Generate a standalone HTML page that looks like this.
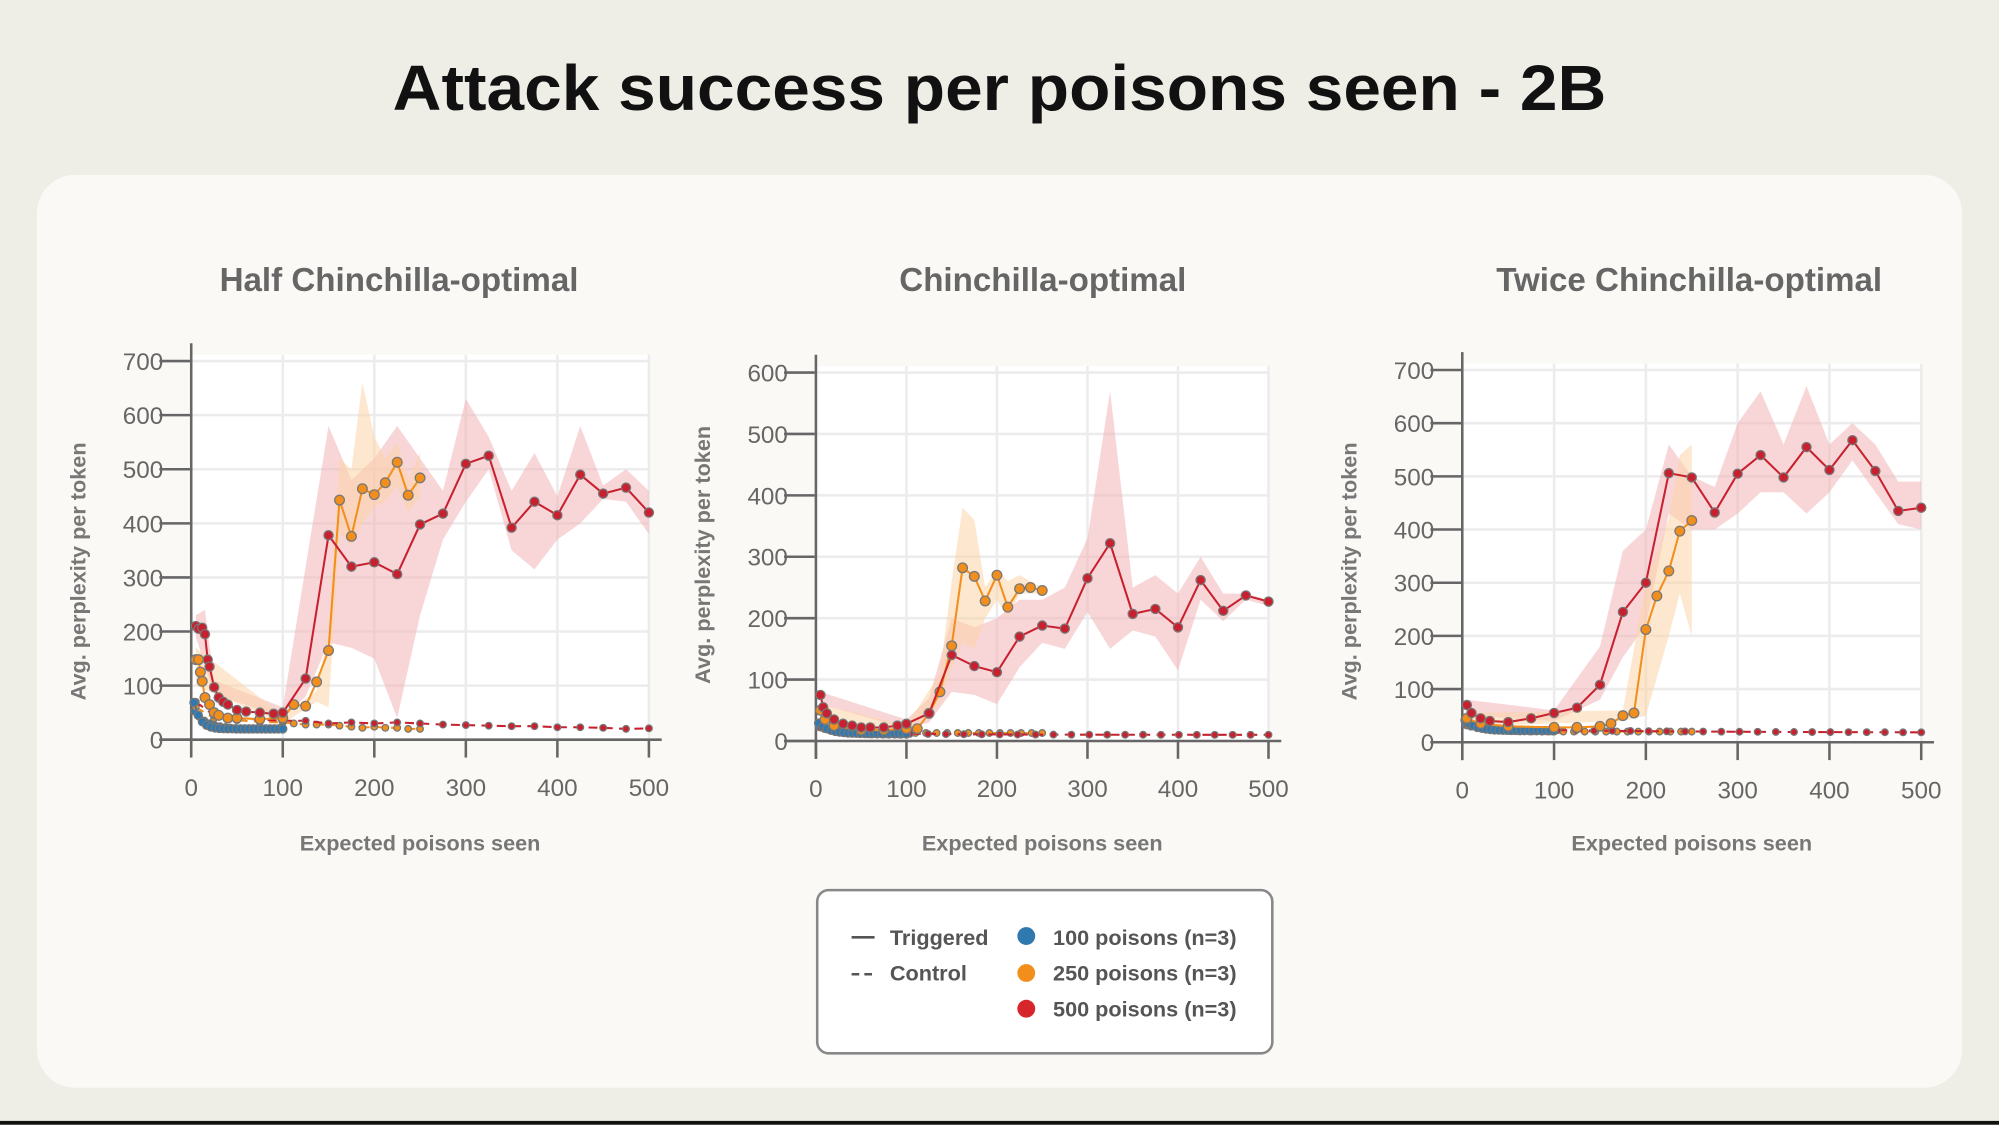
<!DOCTYPE html>
<html><head><meta charset="utf-8">
<style>
html,body{margin:0;padding:0;background:#efeee6;}
svg{display:block;font-family:"Liberation Sans",sans-serif;}
</style></head>
<body>
<svg id="s" width="1999" height="1125" viewBox="0 0 1568 882" xmlns="http://www.w3.org/2000/svg">
<rect x="0" y="0" width="1568" height="882" fill="#efeee6"/>
<rect x="0" y="879" width="1568" height="3" fill="#111"/>
<rect x="29" y="137" width="1510" height="716" rx="30" fill="#faf9f5"/>
<text x="308" y="86" textLength="952" lengthAdjust="spacingAndGlyphs" font-size="50" font-weight="bold" fill="#111">Attack success per poisons seen - 2B</text>
<g id="charts"></g>
<rect x="641" y="698" width="357" height="128" rx="9" fill="#fff" stroke="#888" stroke-width="2"/>
<line x1="668" y1="735" x2="686" y2="735" stroke="#555" stroke-width="2"/>
<line x1="668" y1="764" x2="686" y2="764" stroke="#555" stroke-width="2" stroke-dasharray="6,4"/>
<g font-size="17" fill="#555" font-weight="600">
<text x="698" y="741">Triggered</text>
<text x="698" y="769">Control</text>
<circle cx="805" cy="734" r="7" fill="#2f78b0"/>
<circle cx="805" cy="763" r="7" fill="#f28e1c"/>
<circle cx="805" cy="791" r="7" fill="#d7262b"/>
<text x="826" y="741">100 poisons (n=3)</text>
<text x="826" y="769">250 poisons (n=3)</text>
<text x="826" y="797">500 poisons (n=3)</text>
</g>
</svg>
<script>
const NS="http://www.w3.org/2000/svg";
const G=document.getElementById("charts");
function el(t,a,p){const e=document.createElementNS(NS,t);for(const k in a)e.setAttribute(k,a[k]);(p||G).appendChild(e);return e;}
function tx(x,y,s,a){const e=el("text",Object.assign({x:x,y:y},a));e.textContent=s;return e;}
const RED="#c8202e",ORG="#f28e1c",BLU="#2f78b0";
function chart(c){
 const X=v=>c.x0+(c.x1-c.x0)*v/500, Y=v=>c.y0-(c.y0-c.yT)*v/c.ymax;
 el("rect",{x:c.x0,y:Y(c.ymax)-5,width:c.x1-c.x0,height:c.y0-Y(c.ymax)+5,fill:"#fff"});
 for(let v=0;v<=c.ymax;v+=100){el("line",{x1:c.x0,x2:c.x1,y1:Y(v),y2:Y(v),stroke:"#ececec","stroke-width":2});
  el("line",{x1:c.x0-25,x2:c.x0,y1:Y(v),y2:Y(v),stroke:"#666","stroke-width":2});
  tx(c.x0-22,Y(v)+7,v,{"text-anchor":"end","font-size":19,fill:"#666"});}
 for(let v=0;v<=500;v+=100){el("line",{x1:X(v),x2:X(v),y1:Y(c.ymax)-5,y2:c.y0,stroke:"#ececec","stroke-width":2});
  el("line",{x1:X(v),x2:X(v),y1:c.y0,y2:c.y0+14,stroke:"#666","stroke-width":2});
  tx(X(v),c.y0+44,v,{"text-anchor":"middle","font-size":19,fill:"#666"});}
 el("line",{x1:c.x0,x2:c.x0,y1:c.yT-14,y2:c.y0+14,stroke:"#666","stroke-width":2});
 el("line",{x1:c.x0-25,x2:c.x1+10,y1:c.y0,y2:c.y0,stroke:"#666","stroke-width":2});
 tx(c.tc,228,c.title,{"text-anchor":"middle","font-size":26,"font-weight":"bold",fill:"#666"});
 tx((c.x0+c.x1)/2,667,"Expected poisons seen",{"text-anchor":"middle","font-size":17,"font-weight":"600",fill:"#777"});
 tx(0,0,"Avg. perplexity per token",{"text-anchor":"middle","font-size":17,"font-weight":"600",fill:"#777",transform:`translate(${c.x0-83},${c.ylab}) rotate(-90)`});
 function band(up,lo,col){let d="M"+up.map(p=>X(p[0])+","+Y(p[1])).join("L")+"L"+lo.slice().reverse().map(p=>X(p[0])+","+Y(p[1])).join("L")+"Z";el("path",{d:d,fill:col,opacity:0.55});}
 function line(pts,col,dash,r){el("polyline",{points:pts.map(p=>X(p[0])+","+Y(p[1])).join(" "),fill:"none",stroke:col,"stroke-width":1.6,"stroke-dasharray":dash?"7,5":"none"});
  pts.forEach(p=>el("circle",{cx:X(p[0]),cy:Y(p[1]),r:r,fill:col,stroke:"#777","stroke-width":1}));}
 c.bands.forEach(b=>band(b[0],b[1],b[2]));
 c.ctrl.forEach(s=>line(s[0],s[1],true,2.6));
 c.trig.forEach(s=>line(s[0],s[1],false,s[2]||3.6));
}
function dense(f,a,b,n){const r=[];for(let i=0;i<n;i++){const x=a+(b-a)*i/(n-1);r.push([x,f(x)]);}return r;}
const blue1=dense(x=>20+75*Math.exp(-x/7),3,100,22);
chart({x0:150,x1:509,y0:580,yT:283,ymax:700,tc:313,title:"Half Chinchilla-optimal",ylab:448,
 bands:[
 [[[5,230],[15,240],[25,110],[100,60],[150,580],[175,480],[200,520],[225,580],[250,520],[275,460],[300,630],[325,560],[350,460],[375,530],[400,450],[425,580],[450,470],[475,500],[500,460]],
  [[5,190],[25,85],[100,40],[125,80],[150,180],[175,170],[200,150],[225,40],[250,230],[275,370],[300,440],[325,500],[350,350],[375,315],[400,370],[425,400],[450,445],[475,440],[500,380]],"#f2b5b8"],
 [[[5,170],[100,45],[137,90],[150,200],[162,520],[175,500],[187,660],[200,560],[212,520],[225,550],[237,480],[250,530]],
  [[5,100],[100,30],[137,70],[150,60],[162,380],[175,360],[187,400],[200,430],[212,440],[225,470],[237,420],[250,450]],"#fcd4a6"]],
 ctrl:[[dense(x=>20+40*Math.exp(-x/15),3,100,18),BLU],[[[5,60],[25,40],[50,36],[75,33],[100,32],[112,30],[125,28],[137,28],[150,28],[162,26],[175,24],[187,22],[200,24],[212,22],[225,22],[237,20],[250,20]],ORG],
  [[[5,70],[25,45],[50,40],[75,37],[100,35],[125,35],[150,30],[175,32],[200,30],[225,32],[250,30],[275,28],[300,27],[325,26],[350,25],[375,25],[400,23],[425,23],[450,22],[475,20],[500,21]],RED]],
 trig:[[blue1,BLU,3.2],
  [[[5,148],[8,148],[10,125],[12,108],[15,78],[20,65],[25,50],[30,45],[40,40],[50,40],[75,38],[100,40],[112,65],[125,62],[137,107],[150,165],[162,443],[175,376],[187,464],[200,453],[212,475],[225,513],[237,452],[250,484]],ORG,3.8],
  [[[5,210],[8,205],[12,207],[15,195],[18,148],[20,135],[25,97],[30,78],[35,70],[40,65],[50,55],[60,52],[75,50],[90,48],[100,50],[125,113],[150,378],[175,320],[200,328],[225,306],[250,398],[275,418],[300,510],[325,525],[350,392],[375,440],[400,415],[425,490],[450,455],[475,466],[500,420]],RED,3.6]]});
chart({x0:640,x1:995,y0:581,yT:292,ymax:600,tc:818,title:"Chinchilla-optimal",ylab:435,
 bands:[
 [[[5,80],[100,35],[125,70],[150,200],[175,185],[200,200],[225,230],[250,230],[275,250],[300,330],[325,570],[350,250],[375,270],[400,240],[425,300],[450,240],[475,240],[500,230]],
  [[5,60],[100,20],[125,30],[150,80],[175,75],[200,60],[225,120],[250,160],[275,150],[300,210],[325,150],[350,180],[375,170],[400,115],[425,230],[450,195],[475,230],[500,220]],"#f2b5b8"],
 [[[5,60],[100,25],[137,110],[150,260],[162,380],[175,360],[187,250],[200,280],[212,260],[225,270],[237,260],[250,250]],
  [[5,40],[100,15],[137,60],[150,120],[162,160],[175,150],[187,200],[200,230],[212,200],[225,240],[237,240],[250,240]],"#fcd4a6"]],
 ctrl:[[dense(x=>10+15*Math.exp(-x/20),3,100,16),BLU],[dense(x=>13+15*Math.exp(-x/20),5,250,22),ORG],[dense(x=>10+5*Math.exp(-x/100)+10*Math.exp(-x/15),5,500,26),RED]],
 trig:[[dense(x=>12+22*Math.exp(-x/12),3,100,22),BLU,3.2],
  [[[5,50],[10,35],[20,25],[50,18],[75,18],[100,20],[112,20],[125,45],[137,80],[150,155],[162,282],[175,268],[187,228],[200,270],[212,218],[225,248],[237,250],[250,245]],ORG,3.8],
  [[[5,75],[8,55],[12,45],[20,35],[30,28],[40,25],[50,22],[60,22],[75,22],[90,25],[100,28],[125,45],[150,140],[175,122],[200,112],[225,170],[250,188],[275,183],[300,265],[325,322],[350,207],[375,215],[400,185],[425,262],[450,212],[475,237],[500,227]],RED,3.6]]});
chart({x0:1147,x1:1507,y0:582,yT:290,ymax:700,tc:1325,title:"Twice Chinchilla-optimal",ylab:448,
 bands:[
 [[[5,80],[100,60],[150,180],[175,360],[200,400],[225,560],[250,500],[275,480],[300,600],[325,660],[350,560],[375,670],[400,560],[425,600],[450,560],[475,490],[500,490]],
  [[5,50],[100,40],[150,80],[175,160],[200,220],[225,430],[250,400],[275,400],[300,430],[325,470],[350,470],[375,430],[400,470],[425,530],[450,470],[475,410],[500,400]],"#f2b5b8"],
 [[[5,55],[175,60],[200,300],[225,420],[237,540],[250,560]],
  [[5,30],[175,40],[200,50],[225,200],[237,280],[250,200]],"#fcd4a6"]],
 ctrl:[[dense(x=>20+15*Math.exp(-x/20),3,100,16),BLU],[dense(x=>20+15*Math.exp(-x/20),5,250,22),ORG],[dense(x=>18+8*Math.exp(-x/200)+12*Math.exp(-x/15),5,500,26),RED]],
 trig:[[dense(x=>22+25*Math.exp(-x/12),3,100,22),BLU,3.2],
  [[[5,45],[20,35],[50,30],[100,28],[125,28],[150,30],[162,35],[175,50],[187,55],[200,212],[212,275],[225,322],[237,397],[250,417]],ORG,3.8],
  [[[5,70],[10,55],[20,45],[30,40],[50,38],[75,45],[100,55],[125,65],[150,108],[175,245],[200,300],[225,506],[250,498],[275,432],[300,505],[325,540],[350,498],[375,555],[400,512],[425,568],[450,510],[475,435],[500,441]],RED,3.6]]});
</script>
</body></html>
